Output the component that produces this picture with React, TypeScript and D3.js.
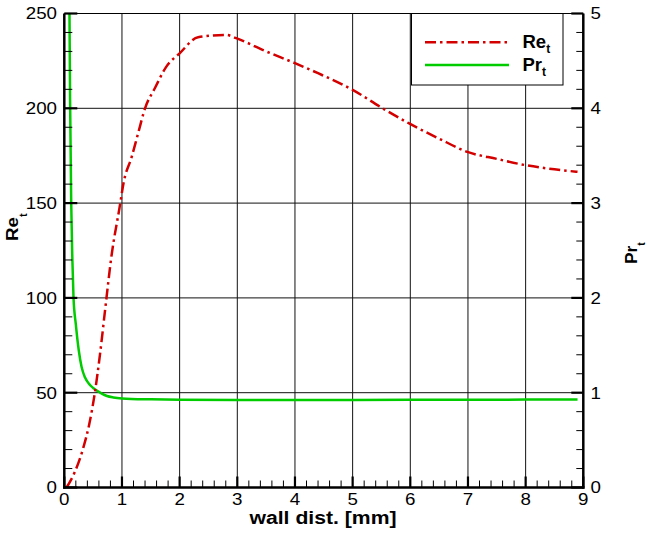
import React from "react";
import * as d3 from "d3";

// Turbulent Reynolds number vs. wall distance
const reDist = [0.04, 0.18, 0.33, 0.43, 0.53, 0.62, 0.72, 0.82, 0.96, 1.03, 1.17, 1.28, 1.4, 1.57, 1.77, 2.0, 2.32, 2.81, 2.98, 3.5, 4.0, 4.4, 5.0, 5.52, 5.98, 6.5, 6.99, 7.5, 8.0, 8.5, 8.9];
const reT = [0, 8, 21, 33, 50, 70.5, 97, 122.5, 148, 161, 174.5, 186.8, 200, 210.6, 222, 229, 237.5, 238.7, 237, 230, 223.8, 218.5, 209.7, 200, 192, 184, 177, 173.3, 170, 167.8, 166.5];

// Turbulent Prandtl number vs. wall distance
const prDist = [0.085, 0.09, 0.1, 0.12, 0.14, 0.16, 0.2, 0.25, 0.3, 0.36, 0.42, 0.5, 0.57, 0.65, 0.74, 0.85, 1.0, 1.5, 2.0, 3.0, 4.0, 5.0, 6.0, 7.0, 8.0, 8.9];
const prT = [5.6, 5.0, 4.1, 3.0, 2.4, 2.0, 1.72, 1.45, 1.27, 1.16, 1.1, 1.05, 1.02, 0.99, 0.965, 0.95, 0.94, 0.93, 0.925, 0.923, 0.923, 0.924, 0.925, 0.926, 0.927, 0.928];

const xTicks = [0, 1, 2, 3, 4, 5, 6, 7, 8, 9];
const reTicks = [0, 50, 100, 150, 200, 250];
const prTicks = [0, 1, 2, 3, 4, 5];

const RED = "#d40000";
const GREEN = "#00cc00";
const FONT = "'Liberation Sans', Arial, Helvetica, sans-serif";

export default function App() {
  const W = 647;
  const H = 533;
  const left = 64.3;
  const right = 583.3;
  const top = 13.5;
  const bottom = 487.5;

  const x = d3.scaleLinear().domain([0, 9]).range([left, right]);
  const yL = d3.scaleLinear().domain([0, 250]).range([bottom, top]);
  const yR = d3.scaleLinear().domain([0, 5]).range([bottom, top]);

  const reLine = d3
    .line<number>()
    .x((_, i) => x(reDist[i]))
    .y((d) => yL(d))
    .curve(d3.curveMonotoneX);
  const prLine = d3
    .line<number>()
    .x((_, i) => x(prDist[i]))
    .y((d) => yR(d))
    .curve(d3.curveMonotoneX);

  const xMinor = d3.range(0, 9.0001, 0.2).filter((v) => Math.abs(v - Math.round(v)) > 1e-6);
  const reMinor = d3.range(0, 250, 10).filter((v) => v % 50 !== 0);
  const prMinor = d3.range(0, 5.0001, 0.2).filter((v) => Math.abs(v - Math.round(v)) > 1e-6);

  const legend = { x0: 411.5, x1: 563, y0: top, y1: 85 };
  const sx = 1.15;

  return (
    <svg
      width={W}
      height={H}
      viewBox={`0 0 ${W} ${H}`}
      style={{ position: "absolute", left: 0, top: 0, background: "#fff" }}
    >
      <defs>
        <clipPath id="plotClip">
          <rect x={left} y={top} width={right - left} height={bottom - top} />
        </clipPath>
      </defs>
      <rect x={0} y={0} width={W} height={H} fill="#fff" />

      {/* grid */}
      <g stroke="#111" strokeWidth={1}>
        {xTicks.slice(1, -1).map((t) => (
          <line key={"gx" + t} x1={x(t)} x2={x(t)} y1={top} y2={bottom} />
        ))}
        {reTicks.slice(1, -1).map((t) => (
          <line key={"gy" + t} x1={left} x2={right} y1={yL(t)} y2={yL(t)} />
        ))}
      </g>

      {/* curves */}
      <g clipPath="url(#plotClip)" fill="none">
        <path d={prLine(prT) || ""} stroke={GREEN} strokeWidth={2.5} />
        <path
          d={reLine(reT) || ""}
          stroke={RED}
          strokeWidth={2.5}
          strokeDasharray="11,4,2.5,4"
        />
      </g>

      {/* legend */}
      <rect
        x={legend.x0}
        y={legend.y0}
        width={legend.x1 - legend.x0}
        height={legend.y1 - legend.y0}
        fill="#fff"
        stroke="#000"
        strokeWidth={1}
      />
      <line x1={425} x2={509} y1={42.3} y2={42.3} stroke={RED} strokeWidth={2.5} strokeDasharray="11,4,2.5,4" />
      <line x1={425} x2={509} y1={65} y2={65} stroke={GREEN} strokeWidth={2.5} />
      <text x={522.5} y={48.3} fontFamily={FONT} fontWeight="bold" fontSize={18.5} fill="#000">
        Re<tspan fontSize={12} dy={5}>t</tspan>
      </text>
      <text x={522.5} y={71} fontFamily={FONT} fontWeight="bold" fontSize={18.5} fill="#000">
        Pr<tspan fontSize={12} dy={5}>t</tspan>
      </text>

      {/* frame */}
      <line x1={left} x2={right} y1={top} y2={top} stroke="#000" strokeWidth={1} />
      <line x1={left} x2={left} y1={top} y2={bottom + 1.2} stroke="#000" strokeWidth={2.5} />
      <line x1={right} x2={right} y1={top} y2={bottom + 1.2} stroke="#000" strokeWidth={2.5} />
      <line x1={left - 1.2} x2={right + 1.2} y1={bottom} y2={bottom} stroke="#000" strokeWidth={2.5} />

      {/* ticks */}
      <g stroke="#000">
        {xTicks.map((t) => (
          <line key={"xt" + t} x1={x(t)} x2={x(t)} y1={bottom} y2={bottom - 11} strokeWidth={2.2} />
        ))}
        {xMinor.map((t) => (
          <line key={"xm" + t} x1={x(t)} x2={x(t)} y1={bottom} y2={bottom - 7} strokeWidth={1} />
        ))}
        {reTicks.map((t) => (
          <line key={"lt" + t} x1={left} x2={left + 13} y1={yL(t)} y2={yL(t)} strokeWidth={2.2} />
        ))}
        {reMinor.map((t) => (
          <line key={"lm" + t} x1={left} x2={left + 8} y1={yL(t)} y2={yL(t)} strokeWidth={1} />
        ))}
        {prTicks.map((t) => (
          <line key={"rt" + t} x1={right} x2={right - 12} y1={yR(t)} y2={yR(t)} strokeWidth={2.2} />
        ))}
        {prMinor.map((t) => (
          <line key={"rm" + t} x1={right} x2={right - 7} y1={yR(t)} y2={yR(t)} strokeWidth={1} />
        ))}
      </g>

      {/* tick labels */}
      <g fontFamily={FONT} fontSize={16.3} fill="#000">
        {xTicks.map((t) => (
          <text key={"xl" + t} transform={`translate(${x(t)},505) scale(${sx},1)`} textAnchor="middle">
            {t}
          </text>
        ))}
        {reTicks.map((t) => (
          <text key={"ll" + t} transform={`translate(57,${yL(t) + 5.8}) scale(${sx},1)`} textAnchor="end">
            {t}
          </text>
        ))}
        {prTicks.map((t) => (
          <text key={"rl" + t} transform={`translate(590.5,${yR(t) + 5.8}) scale(${sx},1)`} textAnchor="start">
            {t}
          </text>
        ))}
      </g>

      {/* axis titles */}
      <text
        x={323}
        y={523.5}
        textAnchor="middle"
        fontFamily={FONT}
        fontWeight="bold"
        fontSize={18}
        textLength={147}
        lengthAdjust="spacingAndGlyphs"
        fill="#000"
      >
        wall dist. [mm]
      </text>
      <text transform={`translate(18,241) rotate(-90) scale(1.1,1)`} fontFamily={FONT} fontWeight="bold" fontSize={17} fill="#000">
        Re<tspan fontSize={10} dy={9}>t</tspan>
      </text>
      <text transform={`translate(637,264) rotate(-90) scale(1.05,1)`} fontFamily={FONT} fontWeight="bold" fontSize={16.5} fill="#000">
        Pr<tspan fontSize={10} dy={7.5}>t</tspan>
      </text>
    </svg>
  );
}
